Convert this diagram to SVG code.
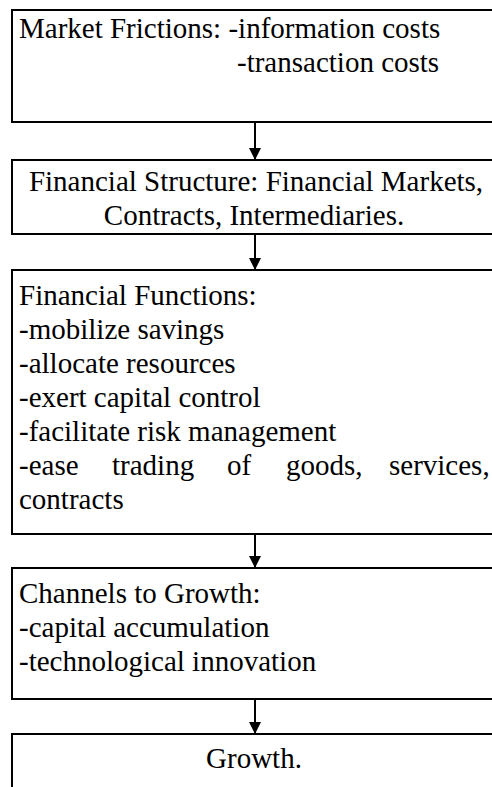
<svg xmlns="http://www.w3.org/2000/svg" width="492" height="787" viewBox="0 0 492 787">
<style>
.box{fill:#fff;stroke:#000;stroke-width:2}
text{font-family:'Liberation Serif','Times New Roman',Times,serif;font-size:29px;fill:#000}
.c{text-anchor:middle}
.conn{stroke:#000;stroke-width:2;fill:none}
</style>
<defs>
<marker id="ah" markerWidth="12" markerHeight="12" refX="11" refY="6" orient="auto" markerUnits="userSpaceOnUse">
<path d="M0,0 L12,6 L0,12 Z" fill="#000"/>
</marker>
</defs>
<rect width="492" height="787" fill="#fff"/>
<g id="n1">
<rect class="box" x="12" y="10" width="486" height="112"/>
<text x="19" y="38">Market Frictions: -information costs</text>
<text x="237" y="72">-transaction costs</text>
</g>
<g id="n2">
<rect class="box" x="12" y="160" width="486" height="74"/>
<text class="c" x="256" y="191">Financial Structure: Financial Markets,</text>
<text class="c" x="254" y="225">Contracts, Intermediaries.</text>
</g>
<g id="n3">
<rect class="box" x="12" y="270" width="486" height="264"/>
<text x="19" y="305">Financial Functions:</text>
<text x="19" y="339">-mobilize savings</text>
<text x="19" y="373">-allocate resources</text>
<text x="19" y="407">-exert capital control</text>
<text x="19" y="441">-facilitate risk management</text>
<text y="475"><tspan x="19">-ease</tspan><tspan x="112">trading</tspan><tspan x="227">of</tspan><tspan x="286">goods,</tspan><tspan x="389">services,</tspan></text>
<text x="19" y="509">contracts</text>
</g>
<g id="n4">
<rect class="box" x="12" y="568" width="486" height="131"/>
<text x="19" y="603">Channels to Growth:</text>
<text x="19" y="637">-capital accumulation</text>
<text x="19" y="671">-technological innovation</text>
</g>
<g id="n5">
<rect class="box" x="12" y="734" width="486" height="70"/>
<text class="c" x="254" y="768">Growth.</text>
</g>
<g id="connectors">
<line class="conn" x1="255" y1="122" x2="255" y2="159" marker-end="url(#ah)"/>
<line class="conn" x1="255" y1="234" x2="255" y2="269" marker-end="url(#ah)"/>
<line class="conn" x1="255" y1="534" x2="255" y2="567" marker-end="url(#ah)"/>
<line class="conn" x1="255" y1="699" x2="255" y2="733" marker-end="url(#ah)"/>
</g>
</svg>
